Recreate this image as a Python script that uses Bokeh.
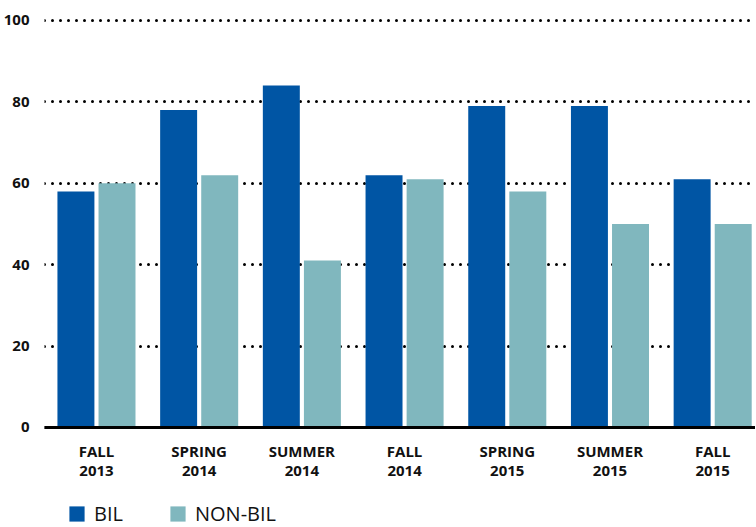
from bokeh.plotting import figure
from bokeh.models import ColumnDataSource, FixedTicker, Range1d, Legend, LegendItem
from bokeh.transform import dodge
from bokeh.embed import file_html
from bokeh.resources import INLINE

terms = ["FALL\n2013", "SPRING\n2014", "SUMMER\n2014", "FALL\n2014",
         "SPRING\n2015", "SUMMER\n2015", "FALL\n2015"]
bil = [58, 78, 84, 62, 79, 79, 61]
non_bil = [60, 62, 41, 61, 58, 50, 50]
y_ticks = [0, 20, 40, 60, 80, 100]

idx = list(range(len(terms)))
src = ColumnDataSource(dict(x=idx, bil=bil, non_bil=non_bil))

FONT = "Open Sans"

p = figure(frame_width=711, frame_height=513, output_backend="svg", toolbar_location=None,
           x_range=Range1d(-0.506, 6.417), y_range=Range1d(-24.57, 101.47),
           min_border_left=37, min_border_right=0, min_border_top=14,
           min_border_bottom=0)
p.outline_line_color = None
p.background_fill_color = "white"
p.border_fill_color = "white"

r1 = p.vbar(x=dodge("x", -0.2, range=p.x_range), top="bil", width=0.36,
            source=src, fill_color="#0055a4", line_color=None)
r2 = p.vbar(x=dodge("x", 0.2, range=p.x_range), top="non_bil", width=0.36,
            source=src, fill_color="#80b7be", line_color=None)

# grid
p.xgrid.grid_line_color = None
p.ygrid.ticker = FixedTicker(ticks=y_ticks)
p.ygrid.grid_line_color = "black"
p.ygrid.grid_line_width = 3
p.ygrid.grid_line_dash = "0 8"
p.ygrid.grid_line_cap = "round"

# y axis
p.yaxis.ticker = FixedTicker(ticks=y_ticks)
p.yaxis.axis_line_color = None
p.yaxis.major_tick_line_color = None
p.yaxis.minor_tick_line_color = None
p.yaxis.major_label_standoff = 9
p.yaxis.major_label_text_font = FONT
p.yaxis.major_label_text_font_size = "15px"
p.yaxis.major_label_text_font_style = "bold"
p.yaxis.major_label_text_color = "#111111"

# x axis, pinned at y = 0
p.xaxis.fixed_location = 0
p.xaxis.ticker = FixedTicker(ticks=idx)
p.xaxis.major_label_overrides = {i: t for i, t in zip(idx, terms)}
p.xaxis.axis_line_color = "black"
p.xaxis.axis_line_width = 3
p.xaxis.major_tick_line_color = None
p.xaxis.minor_tick_line_color = None
p.xaxis.major_label_standoff = 8
p.xaxis.major_label_text_font = FONT
p.xaxis.major_label_text_font_size = "15px"
p.xaxis.major_label_text_font_style = "bold"
p.xaxis.major_label_text_line_height = 0.95
p.xaxis.major_label_text_color = "#111111"
p.xaxis.major_label_text_align = "center"

legend = Legend(items=[LegendItem(label="BIL", renderers=[r1]),
                       LegendItem(label="NON-BIL", renderers=[r2])],
                orientation="horizontal", location=(23, 0),
                glyph_width=19, glyph_height=19, label_standoff=8,
                spacing=45, padding=0, margin=0,
                label_text_font=FONT, label_text_font_size="20px",
                label_text_color="#111111", border_line_color=None,
                background_fill_alpha=0)
p.add_layout(legend, "center")

open("out.html", "w").write(file_html(p, INLINE))
